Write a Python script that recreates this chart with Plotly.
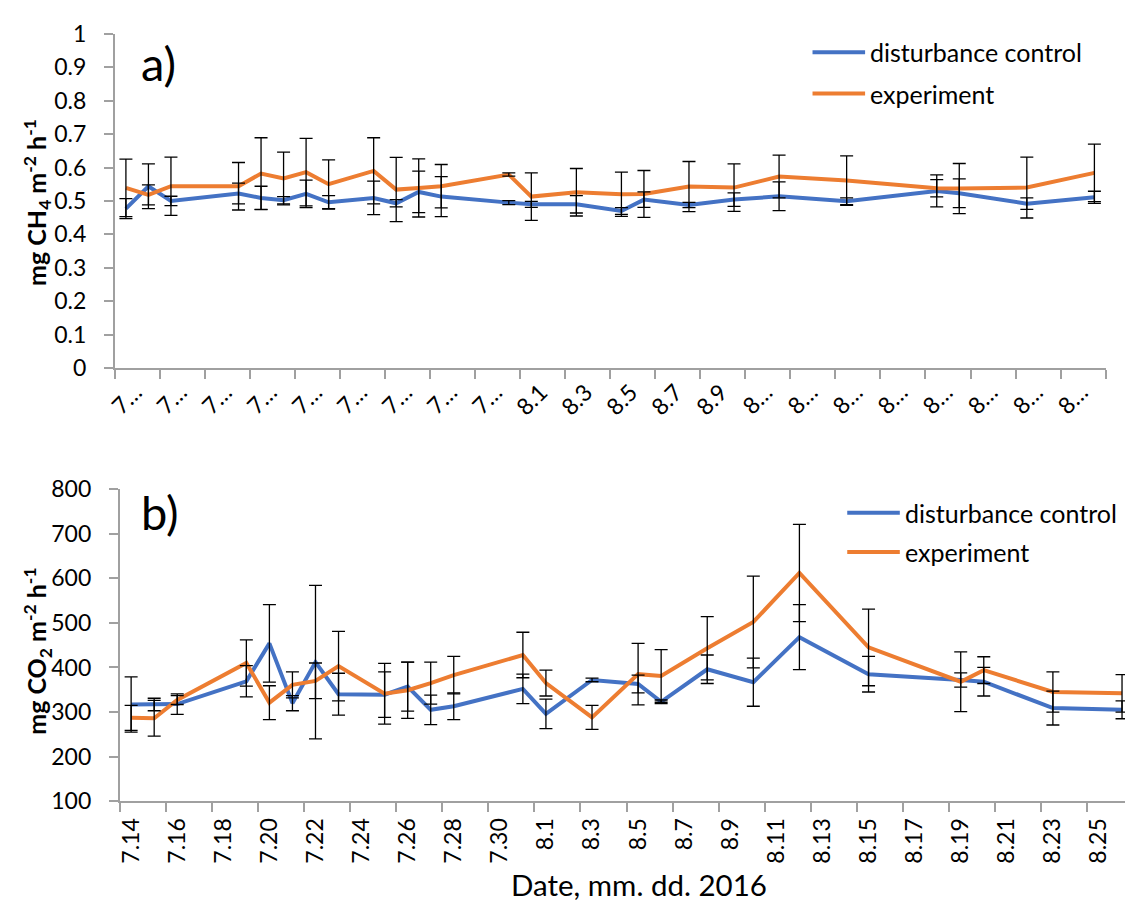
import pandas as pd
import plotly.graph_objects as go

# Sampling dates (2016)
dates = ["2016-07-14", "2016-07-15", "2016-07-16", "2016-07-19", "2016-07-20",
         "2016-07-21", "2016-07-22", "2016-07-23", "2016-07-25", "2016-07-26",
         "2016-07-27", "2016-07-28", "2016-07-31", "2016-08-01", "2016-08-03",
         "2016-08-05", "2016-08-06", "2016-08-08", "2016-08-10", "2016-08-12",
         "2016-08-15", "2016-08-19", "2016-08-20", "2016-08-23", "2016-08-26"]

series_names = ["disturbance control", "experiment"]

# CH4 flux, mg m-2 h-1
ch4_control = [0.477, 0.544, 0.500, 0.522, 0.509, 0.502, 0.521, 0.496, 0.509, 0.493,
               0.527, 0.513, 0.495, 0.490, 0.490, 0.470, 0.504, 0.488, 0.504, 0.514,
               0.499, 0.530, 0.523, 0.492, 0.511]
ch4_control_err = [0.030, 0.067, 0.014, 0.031, 0.035, 0.011, 0.041, 0.020, 0.050, 0.011,
                   0.062, 0.060, 0.006, 0.009, 0.026, 0.010, 0.023, 0.008, 0.020, 0.043,
                   0.010, 0.048, 0.043, 0.017, 0.018]
ch4_experiment = [0.539, 0.518, 0.544, 0.544, 0.582, 0.567, 0.586, 0.550, 0.590, 0.534,
                  0.539, 0.544, 0.579, 0.513, 0.526, 0.520, 0.521, 0.543, 0.540, 0.573,
                  0.561, 0.538, 0.537, 0.540, 0.584]
ch4_experiment_err = [0.086, 0.030, 0.087, 0.071, 0.107, 0.079, 0.101, 0.073, 0.099, 0.096,
                      0.087, 0.065, 0.005, 0.071, 0.071, 0.066, 0.070, 0.075, 0.071, 0.064,
                      0.074, 0.026, 0.075, 0.091, 0.086]

# CO2 flux, mg m-2 h-1
co2_control = [317, 317, 318, 369, 454, 320, 412, 340, 339, 357,
               305, 313, 352, 296, 372, 363, 323, 396, 367, 468,
               385, 372, 368, 309, 305]
co2_control_err = [62, 14, 23, 35, 87, 17, 172, 47, 51, 55,
                   33, 30, 33, 33, 4, 20, 4, 32, 54, 73,
                   40, 16, 32, 38, 20]
co2_experiment = [287, 286, 327, 410, 321, 361, 370, 403, 341, 349,
                  365, 383, 428, 365, 288, 385, 381, 443, 502, 612,
                  445, 368, 394, 345, 342]
co2_experiment_err = [28, 40, 10, 52, 38, 29, 40, 78, 68, 63,
                      47, 42, 51, 29, 27, 69, 59, 71, 103, 109,
                      86, 67, 30, 45, 42]

# Axis labels every second day
tick_dates = ["2016-07-14", "2016-07-16", "2016-07-18", "2016-07-20", "2016-07-22",
              "2016-07-24", "2016-07-26", "2016-07-28", "2016-07-30", "2016-08-01",
              "2016-08-03", "2016-08-05", "2016-08-07", "2016-08-09", "2016-08-11",
              "2016-08-13", "2016-08-15", "2016-08-17", "2016-08-19", "2016-08-21",
              "2016-08-23", "2016-08-25"]
tick_labels_full = ["7.14", "7.16", "7.18", "7.20", "7.22", "7.24", "7.26", "7.28",
                    "7.30", "8.1", "8.3", "8.5", "8.7", "8.9", "8.11", "8.13", "8.15",
                    "8.17", "8.19", "8.21", "8.23", "8.25"]
tick_labels_short = ["7…", "7…", "7…", "7…", "7…", "7…", "7…", "7…", "7…",
                     "8.1", "8.3", "8.5", "8.7", "8.9",
                     "8…", "8…", "8…", "8…", "8…", "8…", "8…", "8…"]

W, H = 1125, 918
BLUE = "#4472C4"
ORANGE = "#ED7D31"
AXIS_GREY = "#a0a0a0"
FONT = "Lato"
DAY_MS = 86400000

fig = go.Figure()


def add_panel(xa, ya, ctrl, ctrl_err, expt, expt_err):
    xref = "x" if xa == 1 else f"x{xa}"
    yref = "y" if ya == 1 else f"y{ya}"
    for vals, color in ((ctrl, BLUE), (expt, ORANGE)):
        fig.add_trace(go.Scatter(x=dates, y=vals, mode="lines", xaxis=xref, yaxis=yref,
                                 line=dict(color=color, width=4), showlegend=False,
                                 hoverinfo="skip"))
    # error bars drawn above both lines
    for vals, err in ((ctrl, ctrl_err), (expt, expt_err)):
        fig.add_trace(go.Scatter(x=dates, y=vals, mode="markers", xaxis=xref, yaxis=yref,
                                 marker=dict(size=1, color="rgba(0,0,0,0)"),
                                 error_y=dict(type="data", array=err, visible=True,
                                              color="black", thickness=1.3, width=6.5),
                                 showlegend=False, hoverinfo="skip"))


add_panel(1, 1, ch4_control, ch4_control_err, ch4_experiment, ch4_experiment_err)
add_panel(2, 2, co2_control, co2_control_err, co2_experiment, co2_experiment_err)

# panel geometry in pixels
top_x0, top_x1, top_y0, top_y1 = 106.5, 1105.5, 364.3, 19.3
bot_x0, bot_y0, bot_y1 = 111.5, 811.0, 489.0
bot_px_per_day = 23.23

x_start = pd.Timestamp("2016-07-13 12:00")
top_end = pd.Timestamp("2016-08-26 12:00")
bot_end = x_start + pd.Timedelta(days=(W - bot_x0) / bot_px_per_day)

# slanted labels sit a little right of the day they name
top_label_pos = [pd.Timestamp(d) + pd.Timedelta(hours=10) for d in tick_dates]

tickfont = dict(family=FONT, size=23, color="black")
common_x = dict(type="date", showgrid=False, zeroline=False, showline=True,
                linecolor=AXIS_GREY, linewidth=1.5, ticks="", tickmode="array",
                tickfont=tickfont,
                minor=dict(ticks="outside", ticklen=9, tickcolor=AXIS_GREY, tickwidth=1.5,
                           tick0="2016-07-13 12:00", dtick=2 * DAY_MS, showgrid=False))
common_y = dict(showgrid=False, zeroline=False, showline=True, linecolor=AXIS_GREY,
                linewidth=1.5, ticks="outside", ticklen=9, tickcolor=AXIS_GREY,
                tickwidth=1.5, tickfont=tickfont, ticklabelstandoff=13)

fig.update_layout(
    width=W, height=H, margin=dict(l=0, r=0, t=0, b=0),
    paper_bgcolor="white", plot_bgcolor="white",
    xaxis=dict(common_x, domain=[top_x0 / W, top_x1 / W],
               range=[x_start, top_end], tickvals=top_label_pos,
               ticktext=tick_labels_short, tickangle=-45, anchor="y"),
    yaxis=dict(common_y, domain=[1 - top_y0 / H, 1 - top_y1 / H], range=[0, 1],
               dtick=0.1, anchor="x"),
    xaxis2=dict(common_x, domain=[bot_x0 / W, 1.0], range=[x_start, bot_end],
                tickvals=tick_dates, ticktext=tick_labels_full, tickangle=-90,
                ticklabelstandoff=6, anchor="y2"),
    yaxis2=dict(common_y, domain=[1 - bot_y0 / H, 1 - bot_y1 / H], range=[100, 800],
                dtick=100, anchor="x2"),
    showlegend=False,
)

annotations = []
shapes = []


def px(xp, yp):
    return xp / W, 1 - yp / H


# y-axis titles
for text, xcen, ycen in (("mg CH<sub>4</sub> m<sup>-2</sup> h<sup>-1</sup>", 28, 193),
                         ("mg CO<sub>2</sub> m<sup>-2</sup> h<sup>-1</sup>", 29, 656)):
    xx, yy = px(xcen, ycen)
    annotations.append(dict(text=f"<b>{text}</b>", x=xx, y=yy, xref="paper", yref="paper",
                            textangle=-90, showarrow=False, xanchor="center",
                            yanchor="middle", font=dict(family=FONT, size=25, color="black")))

# panel letters
for text, xc, yc in (("a)", 151, 50), ("b)", 152, 513)):
    xx, yy = px(xc, yc)
    annotations.append(dict(text=text, x=xx, y=yy, xref="paper", yref="paper",
                            showarrow=False, xanchor="center", yanchor="middle",
                            font=dict(family=FONT, size=47, color="black")))

# x-axis title
xx, yy = px(635, 897)
annotations.append(dict(text="Date, mm. dd. 2016", x=xx, y=yy, xref="paper", yref="paper",
                        showarrow=False, xanchor="center", yanchor="middle",
                        font=dict(family=FONT, size=29.5, color="black")))

# legends
for lx0, lx1, ys in ((810, 863, (38.5, 81)), (845, 898, (513.5, 554))):
    for name, color, ly in zip(series_names, (BLUE, ORANGE), ys):
        a0, b0 = px(lx0, ly)
        a1, _ = px(lx1, ly)
        shapes.append(dict(type="line", xref="paper", yref="paper", x0=a0, x1=a1,
                           y0=b0, y1=b0, line=dict(color=color, width=4)))
        tx, _ = px(lx1 + 3, ly)
        annotations.append(dict(text=name, x=tx, y=b0, xref="paper", yref="paper",
                                showarrow=False, xanchor="left", yanchor="middle",
                                font=dict(family=FONT, size=25, color="black")))

fig.update_layout(annotations=annotations, shapes=shapes)
fig.write_html("out.html")
